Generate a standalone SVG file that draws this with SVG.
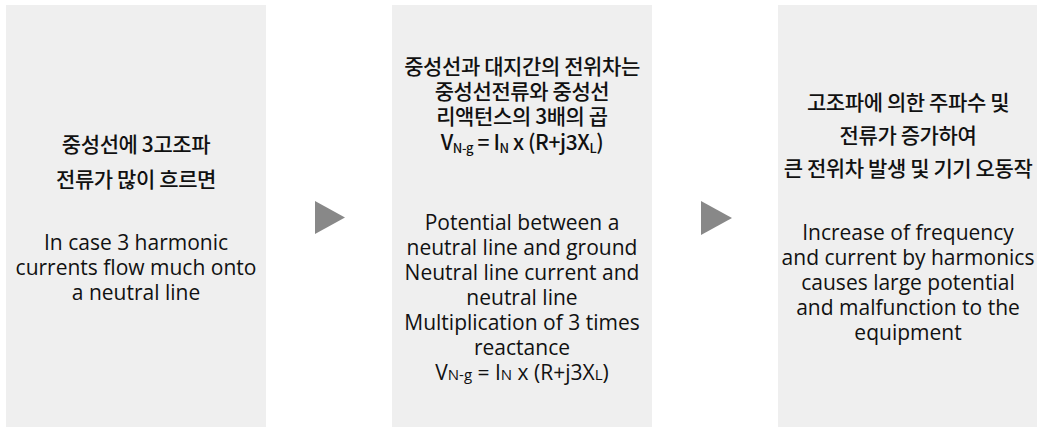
<svg xmlns="http://www.w3.org/2000/svg" width="1037" height="427" viewBox="0 0 1037 427">
<style>
.box{fill:#efefef}
.ko{font-family:"Noto Sans CJK KR","Noto Sans",sans-serif;font-size:21px;font-weight:500;letter-spacing:-0.4px;fill:#111;text-anchor:middle}
.en{font-family:"Open Sans","Noto Sans",sans-serif;font-size:21px;fill:#111;text-anchor:middle}
.arrow{fill:#888}
</style>
<rect width="1037" height="427" fill="#ffffff"/>
<g id="node1">
<rect class="box" x="6" y="5" width="260" height="422"/>
<text class="ko" x="136" y="152">중성선에 3고조파</text>
<text class="ko" x="136" y="187">전류가 많이 흐르면</text>
<text class="en" x="136" y="250">In case 3 harmonic</text>
<text class="en" x="136" y="275">currents flow much onto</text>
<text class="en" x="136" y="300">a neutral line</text>
</g>
<g id="node2">
<rect class="box" x="392" y="5" width="260" height="422"/>
<text class="ko" x="522" y="74">중성선과 대지간의 전위차는</text>
<text class="ko" x="522" y="99">중성선전류와 중성선</text>
<text class="ko" x="522" y="124">리액턴스의 3배의 곱</text>
<text class="ko" x="522" y="150">V<tspan font-size="13" dy="3">N-g</tspan><tspan dy="-3"> = I</tspan><tspan font-size="13" dy="3">N</tspan><tspan dy="-3"> x (R+j3X</tspan><tspan font-size="13" dy="3">L</tspan><tspan dy="-3">)</tspan></text>
<text class="en" x="522" y="230">Potential between a</text>
<text class="en" x="522" y="255">neutral line and ground</text>
<text class="en" x="522" y="280">Neutral line current and</text>
<text class="en" x="522" y="305">neutral line</text>
<text class="en" x="522" y="330">Multiplication of 3 times</text>
<text class="en" x="522" y="355">reactance</text>
<text class="en" x="522" y="380">V<tspan font-size="15">N-g</tspan> = I<tspan font-size="15">N</tspan> x (R+j3X<tspan font-size="15">L</tspan>)</text>
</g>
<g id="node3">
<rect class="box" x="778" y="5" width="260" height="422"/>
<text class="ko" x="908" y="110">고조파에 의한 주파수 및</text>
<text class="ko" x="908" y="143">전류가 증가하여</text>
<text class="ko" x="908" y="176">큰 전위차 발생 및 기기 오동작</text>
<text class="en" x="908" y="240">Increase of frequency</text>
<text class="en" x="908" y="265">and current by harmonics</text>
<text class="en" x="908" y="290">causes large potential</text>
<text class="en" x="908" y="315">and malfunction to the</text>
<text class="en" x="908" y="340">equipment</text>
</g>
<g id="connectors">
<polygon class="arrow" points="315,201 345,217.5 315,234"/>
<polygon class="arrow" points="701,201 732,218 701,235"/>
</g>
</svg>
